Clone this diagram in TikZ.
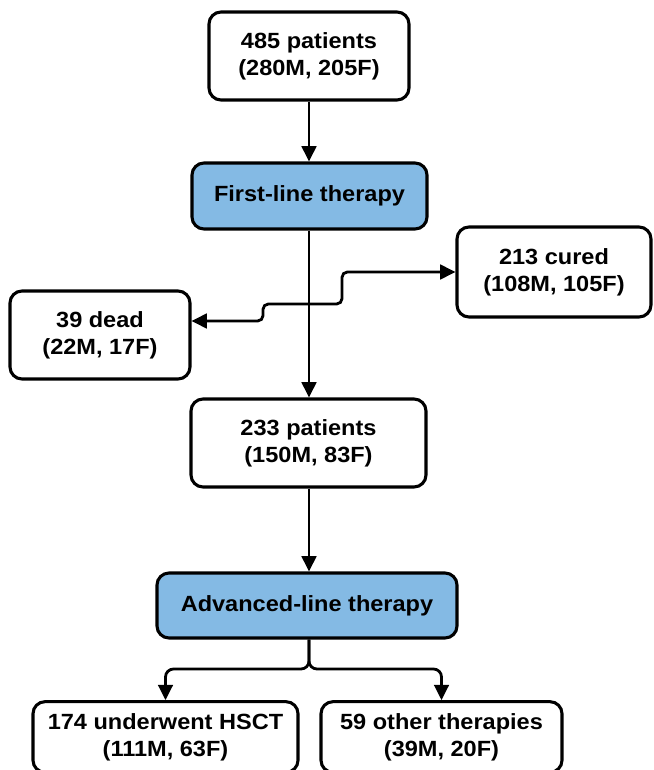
\documentclass[tikz,border=0pt]{standalone}
\usepackage{fontspec}
\setmainfont{Liberation Sans}[FakeStretch=1.07]
\usetikzlibrary{arrows.meta}
\definecolor{boxblue}{RGB}{132,186,228}
\tikzset{
  box/.style={draw=black, line width=2.3pt, rounded corners=9pt, fill=white,
    align=center, inner sep=0pt,
    font=\fontsize{16.5pt}{20.25pt}\selectfont\bfseries},
  bluebox/.style={box, fill=boxblue},
  conn/.style={line width=2.1pt, -{Triangle[length=11.5pt,width=11pt]}},
}
\begin{document}
\begin{tikzpicture}[x=0.75pt,y=-0.75pt]
\clip (0,0) rectangle (653,770);
\fill[white] (0,0) rectangle (653,770);

\node[box, minimum width=150pt, minimum height=66pt] (top) at (309,56) {485 patients\\(280M, 205F)};
\node[bluebox, minimum width=176.25pt, minimum height=49.5pt] (first) at (309.5,196) {First-line therapy};
\node[box, minimum width=145.5pt, minimum height=67.5pt] (cured) at (554,272) {213 cured\\(108M, 105F)};
\node[box, minimum width=135pt, minimum height=66pt] (dead) at (100,335) {39 dead\\(22M, 17F)};
\node[box, minimum width=176.25pt, minimum height=66pt] (p233) at (308.5,443) {233 patients\\(150M, 83F)};
\node[bluebox, minimum width=225pt, minimum height=48.75pt] (adv) at (307,605.5) {Advanced-line therapy};
\node[box, minimum width=198.75pt, minimum height=53pt] (hsct) at (165.5,737) {174 underwent HSCT\\(111M, 63F)};
\node[box, minimum width=180.75pt, minimum height=53pt] (other) at (441.5,737) {59 other therapies\\(39M, 20F)};

\coordinate (cA) at (263,321);
\coordinate (cB) at (263,304);
\coordinate (cC) at (342,304);
\coordinate (cD) at (342,272);
\coordinate (split) at (309,669);

\draw[conn] (309,0 |- top.south) -- (309,0 |- first.north);
\draw[conn] (309,0 |- first.south) -- (309,0 |- p233.north);
\draw[conn] (309,0 |- p233.south) -- (309,0 |- adv.north);

\draw[line width=2.1pt, {Triangle[length=11.5pt,width=11pt]}-{Triangle[length=11.5pt,width=11pt]}, rounded corners=4pt]
  (dead.east |- cA) -- (cA) -- (cB) -- (cC) -- (cD) -- (cured.west |- cD);

\draw[conn, rounded corners=6pt] (309,0 |- adv.south) -- (split) -| (hsct.north);
\draw[conn, rounded corners=6pt] (309,0 |- adv.south) -- (split) -| (other.north);
\end{tikzpicture}
\end{document}
